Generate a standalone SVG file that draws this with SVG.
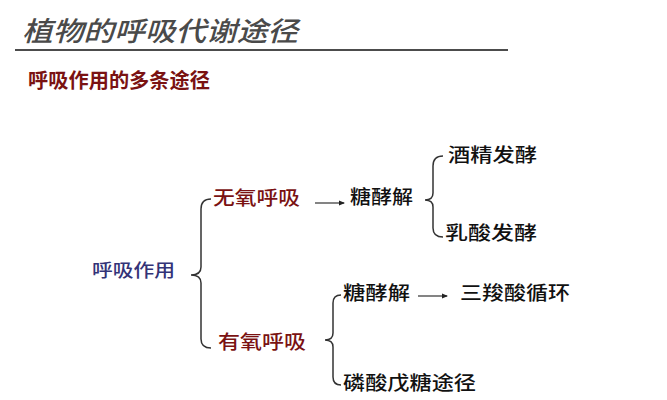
<svg xmlns="http://www.w3.org/2000/svg" width="667" height="400" viewBox="0 0 667 400">
<defs>
<marker id="ah" markerWidth="6" markerHeight="6" refX="5" refY="3" orient="auto" markerUnits="userSpaceOnUse">
<path d="M0,0.5 L6,3 L0,5.5 Z" fill="#222"/>
</marker>
</defs>
<style>
text{font-family:"Noto Sans CJK SC","Noto Sans",sans-serif;font-weight:500;}
.title{font-size:27px;fill:#4a4a4a;font-style:italic;}
.sub{font-size:20px;fill:#7a1212;font-weight:700;}
.red{font-size:19px;fill:#7a1212;}
.blue{font-size:18px;fill:#333377;}
.blk{font-size:19px;fill:#111;}
.brace{fill:none;stroke:#333;stroke-width:1.5;}
.arr{fill:none;stroke:#333;stroke-width:1.2;marker-end:url(#ah);}
</style>
<rect width="667" height="400" fill="#fff"/>
<g id="header">
<text class="title" x="22" y="41" textLength="276" lengthAdjust="spacingAndGlyphs">植物的呼吸代谢途径</text>
<line x1="15" y1="50" x2="508" y2="50" stroke="#111" stroke-width="1.5"/>
<text class="sub" x="28" y="88" textLength="182" lengthAdjust="spacingAndGlyphs">呼吸作用的多条途径</text>
</g>
<g id="connectors">
<path class="brace" d="M211,199 Q201,199 201,209 L201,267 Q201,275 191,275 Q201,275 201,283 L201,339 Q201,348 211,348"/>
<path class="brace" d="M443,156 Q433,156 433,166 L433,193 Q433,200 425,200 Q433,200 433,207 L433,228 Q433,237 443,237"/>
<path class="brace" d="M341,295 Q333,295 333,303 L333,333 Q333,340 325,340 Q333,340 333,347 L333,377 Q333,385 341,385"/>
<line class="arr" x1="315" y1="203" x2="344" y2="203"/>
<line class="arr" x1="418" y1="296" x2="447" y2="296"/>
</g>
<g id="n-root"><text class="blue" x="92" y="277" textLength="83" lengthAdjust="spacingAndGlyphs">呼吸作用</text></g>
<g id="n-anaerobic"><text class="red" x="213" y="205" textLength="87" lengthAdjust="spacingAndGlyphs">无氧呼吸</text></g>
<g id="n-aerobic"><text class="red" x="218" y="349" textLength="88" lengthAdjust="spacingAndGlyphs">有氧呼吸</text></g>
<g id="n-glycolysis1"><text class="blk" x="350" y="204" textLength="63" lengthAdjust="spacingAndGlyphs">糖酵解</text></g>
<g id="n-alcohol"><text class="blk" x="448" y="162" textLength="89" lengthAdjust="spacingAndGlyphs">酒精发酵</text></g>
<g id="n-lactic"><text class="blk" x="445" y="240" textLength="92" lengthAdjust="spacingAndGlyphs">乳酸发酵</text></g>
<g id="n-glycolysis2"><text class="blk" x="343" y="300" textLength="67" lengthAdjust="spacingAndGlyphs">糖酵解</text></g>
<g id="n-tca"><text class="blk" x="460" y="300" textLength="110" lengthAdjust="spacingAndGlyphs">三羧酸循环</text></g>
<g id="n-ppp"><text class="blk" x="343" y="390" textLength="133" lengthAdjust="spacingAndGlyphs">磷酸戊糖途径</text></g>
</svg>
